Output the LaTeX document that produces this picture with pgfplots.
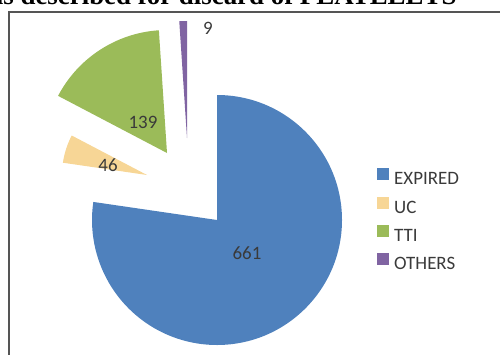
\documentclass[border=0pt]{standalone}
\usepackage{pgfplots}
\pgfplotsset{compat=1.18}
\usepackage{pgfplotstable}
\usepackage{fontspec}
\setmainfont{Carlito}
\newfontfamily\titlefont{Liberation Serif}
\definecolor{cexp}{HTML}{4F81BD}
\definecolor{cuc}{RGB}{247,214,150}
\definecolor{ctti}{HTML}{9BBB59}
\definecolor{coth}{HTML}{8064A2}
\definecolor{labtxt}{HTML}{3A3A3A}
\definecolor{frame}{HTML}{555555}

% name value colour explode-dx explode-dy radius label-x label-y
\pgfplotstableread{
name value color dx dy r lx ly
EXPIRED 661 cexp 0 0 125 247 101
UC 46 cuc -70 45 85 108 189
TTI 139 ctti -50 67 123 143 232
OTHERS 9 coth -30 82 117 208 326
}\piedata

\def\cx{217}
\def\cy{134}
\def\total{855}

\begin{document}
\begin{tikzpicture}
\begin{axis}[
  x=1bp, y=1bp, xmin=0, xmax=500, ymin=0, ymax=354,
  hide axis, clip=false,
  legend cell align=left,
  legend image code/.code={\fill[#1] (-17bp,0bp) rectangle (-5bp,12bp); \path (0bp,0bp);},
  legend style={at={(axis cs:377,133.2)}, anchor=west, draw=none, fill=none,
    inner sep=0pt, font=\fontsize{19}{22}\selectfont, text=labtxt,
    nodes={inner sep=0pt, text height=12.5bp, text depth=3.5bp}, row sep=8.3bp},
]
\xdef\cum{0}
\pgfplotsinvokeforeach{0,...,3}{
  \pgfplotstablegetelem{#1}{value}\of\piedata \let\v\pgfplotsretval
  \pgfplotstablegetelem{#1}{color}\of\piedata \let\col\pgfplotsretval
  \pgfplotstablegetelem{#1}{dx}\of\piedata \let\ddx\pgfplotsretval
  \pgfplotstablegetelem{#1}{dy}\of\piedata \let\ddy\pgfplotsretval
  \pgfplotstablegetelem{#1}{r}\of\piedata \let\rr\pgfplotsretval
  \pgfplotstablegetelem{#1}{lx}\of\piedata \let\llx\pgfplotsretval
  \pgfplotstablegetelem{#1}{ly}\of\piedata \let\lly\pgfplotsretval
  \pgfmathsetmacro\fa{\cum/\total}
  \pgfmathsetmacro\fb{(\cum+\v)/\total}
  \pgfmathsetmacro\sa{90-360*\fa}
  \pgfmathsetmacro\sb{90-360*\fb}
  \pgfmathsetmacro\px{\cx+\ddx}
  \pgfmathsetmacro\py{\cy+\ddy}
  \edef\temp{\noexpand\fill[\col] (axis cs:\px,\py) -- ++(\sa:\rr bp) arc[start angle=\sa, end angle=\sb, radius=\rr bp] -- cycle;
    \noexpand\node[text=labtxt, font=\noexpand\fontsize{19}{22}\noexpand\selectfont] at (axis cs:\llx,\lly) {\v};}
  \temp
  \pgfmathsetmacro\newcum{\cum+\v}
  \xdef\cum{\newcum}
}
\addlegendimage{fill=cexp, draw=none}\addlegendentry{EXPIRED}
\addlegendimage{fill=cuc, draw=none}\addlegendentry{UC}
\addlegendimage{fill=ctti, draw=none}\addlegendentry{TTI}
\addlegendimage{fill=coth, draw=none}\addlegendentry{OTHERS}
\draw[frame, line width=1.4bp] (axis cs:9,-20) -- (axis cs:9,342) -- (axis cs:520,342);
\node[anchor=base east, font=\titlefont\bfseries\fontsize{27}{31}\selectfont] at (axis cs:460,349.5) {Reasons described for discard of PLATELETS};
\end{axis}
\pgfresetboundingbox
\useasboundingbox (current axis.south west) rectangle (current axis.north east);
\end{tikzpicture}
\end{document}
